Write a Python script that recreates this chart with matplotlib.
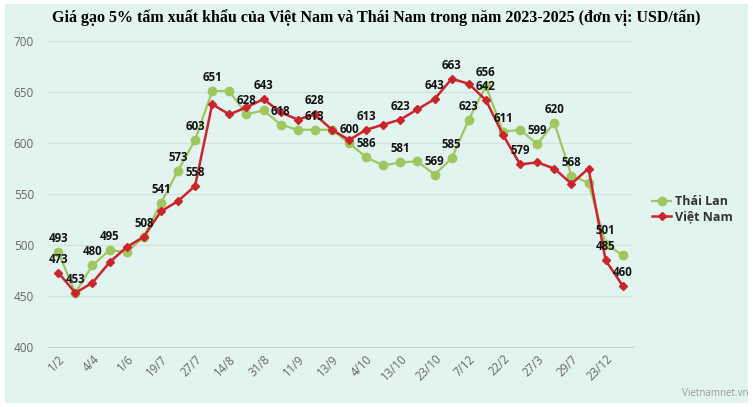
import matplotlib.pyplot as plt
from matplotlib.patches import Rectangle

# tick labels shown on the x axis (every second point)
tick_labels = ["1/2", "4/4", "1/6", "19/7", "27/7", "14/8", "31/8", "11/9", "13/9",
               "4/10", "13/10", "23/10", "7/12", "22/2", "27/3", "29/7", "23/12"]

thai = [493, 453, 480, 495, 493, 508, 541, 573, 603, 651, 651, 628, 632, 618, 613, 613, 613,
        600, 586, 578, 581, 582, 569, 585, 623, 656, 611, 613, 599, 620, 568, 561, 501, 490]
viet = [473, 453, 463, 483, 498, 508, 533, 543, 558, 638, 628, 635, 643, 630, 623, 628, 613,
        603, 613, 618, 623, 633, 643, 663, 658, 642, 608, 579, 581, 575, 560, 575, 485, 460]

# which points carry a value label (the others are hidden in the original)
thai_shown = [0, 1, 2, 3, 5, 6, 7, 8, 9, 11, 13, 15, 17, 18, 20, 22, 23, 24, 25, 26, 28, 29, 30, 32]
viet_shown = [0, 8, 12, 15, 18, 20, 22, 23, 25, 27, 32, 33]

green = "#a0c75f"
red = "#c9252b"
bg = "#e2f4f0"

fig = plt.figure(figsize=(7.53, 4.07), dpi=100)
fig.patch.set_facecolor("white")
fig.patches.append(Rectangle((5 / 753, 4 / 407), 743 / 753, 399 / 407,
                             transform=fig.transFigure, facecolor=bg, edgecolor="none", zorder=-10))

ax = fig.add_axes([48 / 753, 1 - 347 / 407, 585 / 753, 306 / 407])
ax.set_facecolor("none")

x = list(range(len(thai)))
ax.plot(x, thai, color=green, lw=1.6, marker="o", ms=6, label="Thái Lan", zorder=3)
ax.plot(x, viet, color=red, lw=1.8, marker="D", ms=4, label="Việt Nam", zorder=4)

for i in thai_shown:
    ax.annotate(str(thai[i]), (i, thai[i]), xytext=(0, 5), textcoords="offset points",
                ha="center", va="bottom", fontsize=8.3, fontweight="bold",
                family="Open Sans", color="#111111", zorder=6)
for i in viet_shown:
    ax.annotate(str(viet[i]), (i, viet[i]), xytext=(0, 5), textcoords="offset points",
                ha="center", va="bottom", fontsize=8.3, fontweight="bold",
                family="Open Sans", color="#111111", zorder=6)

ax.set_xlim(-0.6, 33.6)
ax.set_ylim(400, 700)
ax.set_yticks(range(400, 701, 50))
ax.set_xticks(range(0, 33, 2))
ax.set_xticklabels(tick_labels, rotation=45, ha="right", va="top",
                   rotation_mode="anchor", fontsize=8.3, family="Open Sans", color="#666666")
for t in ax.get_yticklabels():
    t.set_fontsize(8.5)
    t.set_family("Open Sans")
    t.set_color("#666666")
ax.tick_params(axis="both", length=0)
ax.tick_params(axis="y", pad=10)
ax.tick_params(axis="x", pad=4)
ax.grid(axis="y", color="#d3e3df", lw=0.9)
ax.set_axisbelow(True)
for s in ["top", "right", "left"]:
    ax.spines[s].set_visible(False)
ax.spines["bottom"].set_color("#c4d2cf")

fig.text(376 / 753, 1 - 18 / 407, "Giá gạo 5% tấm xuất khẩu của Việt Nam và Thái Nam trong năm 2023-2025 (đơn vị: USD/tấn)",
         ha="center", va="center", fontsize=11.5, fontweight="bold", family="Liberation Serif")

leg = ax.legend(loc="upper left", bbox_to_anchor=(641 / 753, 1 - 184 / 407), bbox_transform=fig.transFigure,
                frameon=False, handlelength=1.5, handletextpad=0.35, labelspacing=0.2,
                prop={"family": "Open Sans", "size": 9, "weight": "bold"})
for t in leg.get_texts():
    t.set_color("#333333")

fig.text(748 / 753, 1 - 394 / 407, "Vietnamnet.vn", ha="right", va="center",
         fontsize=7, family="Open Sans", color="#999999")

fig.savefig("out.png", dpi=100, facecolor=fig.get_facecolor())
